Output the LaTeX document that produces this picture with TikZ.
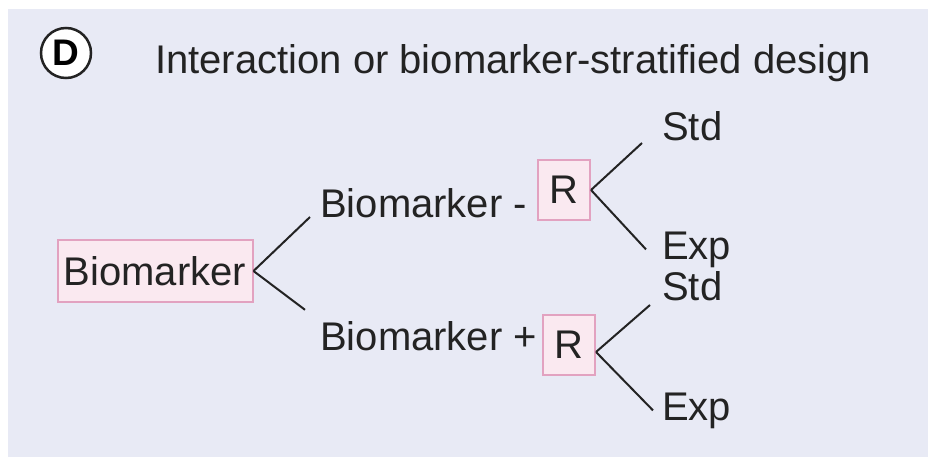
\documentclass[tikz,border=0pt]{standalone}
\usepackage{fontspec}
\setmainfont{Liberation Sans}
\definecolor{panelbg}{RGB}{232,234,245}
\definecolor{boxfill}{RGB}{250,233,240}
\definecolor{boxline}{RGB}{226,162,192}
\definecolor{inkline}{RGB}{35,35,35}
\tikzset{
  pinkbox/.style={draw=boxline,fill=boxfill,line width=2pt,inner sep=0pt},
  branch/.style={draw=inkline,line width=2pt},
  lbl/.style={inner sep=0pt,anchor=base west,text=inkline},
}
\begin{document}
\begin{tikzpicture}[x=1pt,y=-1pt,font=\fontsize{40}{48}\selectfont]
\useasboundingbox (0,0) rectangle (931,461) ;
\fill [white] (0,0) rectangle (931,461) ;
\fill [panelbg] (8,9) rectangle (928,457) ;
\node [circle,draw=inkline,fill=white,line width=2.5pt,minimum size=50pt,inner sep=0pt,font=\fontsize{37}{40}\selectfont\bfseries] (D) at (66,53) {D} ;
\node [lbl,font=\fontsize{40}{48}\selectfont] (title) at (155,73) {Interaction or biomarker-stratified design} ;
\node [pinkbox,minimum width=195pt,minimum height=62pt,text=inkline] (bm) at (155,271) {Biomarker} ;
\node [lbl] (bneg) at (320,217) {Biomarker -} ;
\node [lbl] (bpos) at (320,350) {Biomarker +} ;
\node [pinkbox,minimum width=52pt,minimum height=60pt,text=inkline] (Rneg) at (564,190) {R} ;
\node [pinkbox,minimum width=52pt,minimum height=60pt,text=inkline] (Rpos) at (569,345) {R} ;
\node [lbl] (stdneg) at (662,140) {Std} ;
\node [lbl] (expneg) at (662,259) {Exp} ;
\node [lbl] (stdpos) at (662,300) {Std} ;
\node [lbl] (exppos) at (662,420) {Exp} ;
% first split
\draw [branch] (bm.east) -- ([xshift=-10pt]bneg.base west) ;
\draw [branch] (bm.east) -- ([xshift=-15pt,yshift=11pt]bpos.north west) ;
% randomisation, biomarker -
\draw [branch] (Rneg.east) -- ([xshift=-20pt,yshift=-3pt]stdneg.base west) ;
\draw [branch] (Rneg.east) -- ([xshift=-16pt]expneg.west) ;
% randomisation, biomarker +
\draw [branch] ([yshift=-7pt]Rpos.east) -- ([xshift=-12pt,yshift=-5pt]stdpos.base west) ;
\draw [branch] ([yshift=-7pt]Rpos.east) -- ([xshift=-9pt]exppos.west) ;
\end{tikzpicture}
\end{document}
